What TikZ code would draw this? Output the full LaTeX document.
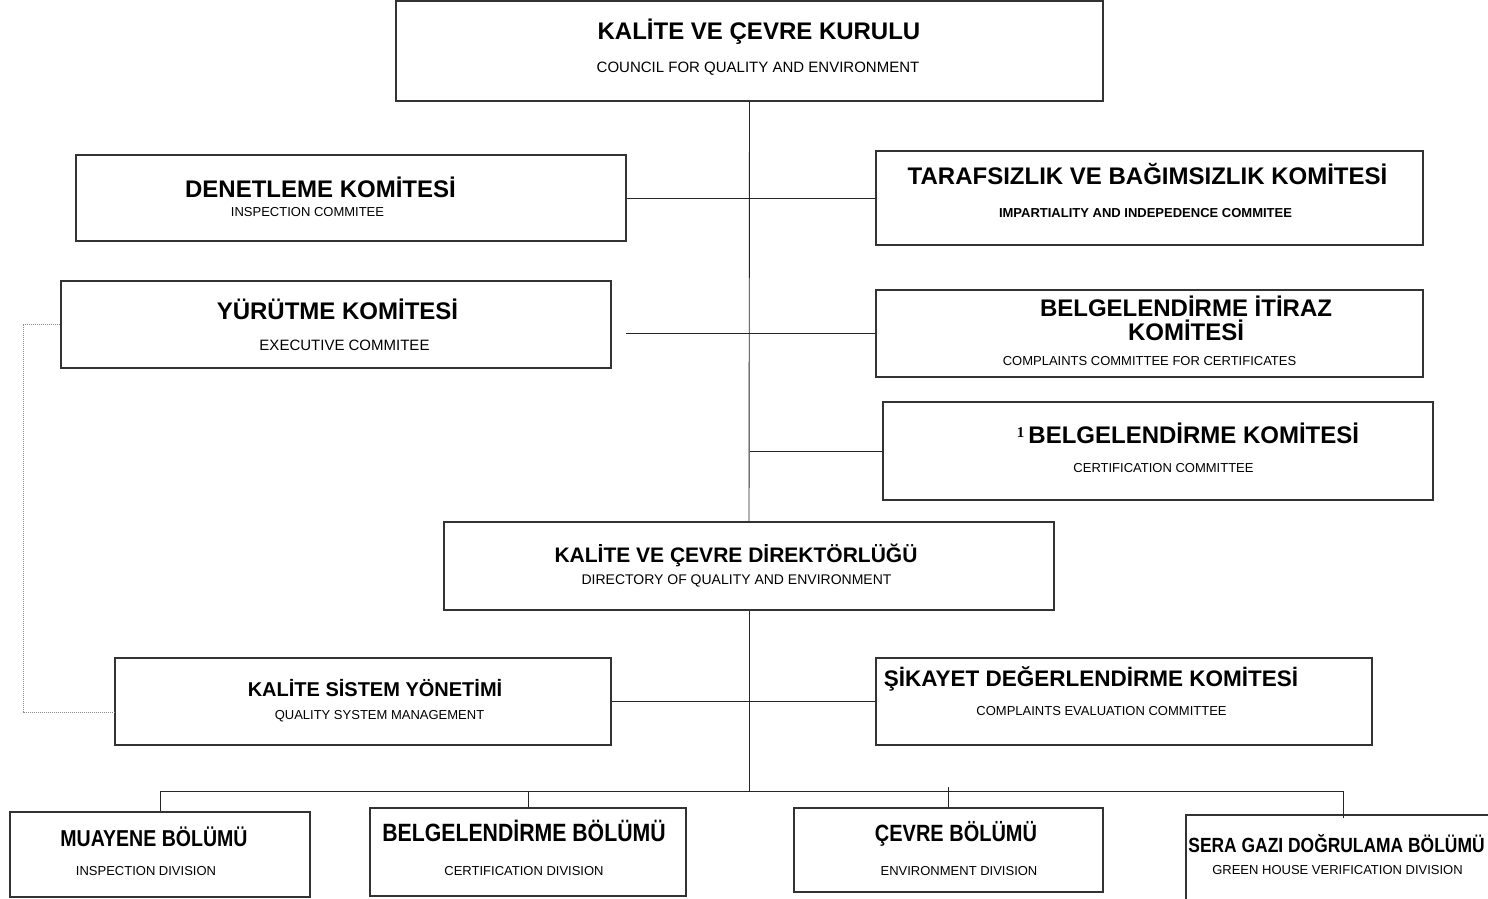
\documentclass[tikz,border=0pt]{standalone}
\usepackage{fontspec}
\setmainfont{Liberation Sans}
\newfontfamily\serifnum{Liberation Serif}
\newfontfamily\narrowsans{Liberation Sans}[FakeStretch=0.85]
\usetikzlibrary{positioning}

\begin{document}
\begin{tikzpicture}[x=1pt,y=-1pt,
  orgbox/.style={draw=black!80,line width=1.1pt,inner sep=0pt},
  ttl/.style={font=\fontsize{#1}{#1}\selectfont\bfseries,inner sep=0pt,
    text height={0.716*#1pt},text depth=0pt},
  ttl/.default=24,
  divttl/.style={font=\narrowsans\fontsize{#1}{#1}\selectfont\bfseries,inner sep=0pt,
    text height={0.716*#1pt},text depth=0pt},
  sub/.style={font=\fontsize{#1}{#1}\selectfont,inner sep=0pt,
    text height={0.716*#1pt},text depth=0pt},
  sub/.default=13,
  link/.style={draw=black!85,line width=0.9pt},
  dotlink/.style={draw=black!45,line width=1pt,densely dotted}
]
  \useasboundingbox (0,0) rectangle (1488,898);
  \clip (0,0) rectangle (1488,898);

  % Kurul
  \node[orgbox,minimum width=707pt,minimum height=100pt] (kurul) at (749.5,51) {};
  \node[ttl] (kurulT) at (759,31) {KALİTE VE ÇEVRE KURULU};
  \node[sub=15] (kurulS) at (758,67) {COUNCIL FOR QUALITY AND ENVIRONMENT};

  % Committees
  \node[orgbox,minimum width=550pt,minimum height=86pt] (denetim) at (351,198) {};
  \node[ttl] (denetimT) at (320.5,189) {DENETLEME KOMİTESİ};
  \node[sub] (denetimS) at (307.5,212) {INSPECTION COMMITEE};

  \node[orgbox,minimum width=547pt,minimum height=94pt] (taraf) at (1149.5,198) {};
  \node[ttl] (tarafT) at (1147.5,176) {TARAFSIZLIK VE BAĞIMSIZLIK KOMİTESİ};
  \node[sub,font=\fontsize{13}{13}\selectfont\bfseries] (tarafS) at (1145.5,213) {IMPARTIALITY AND INDEPEDENCE COMMITEE};

  \node[orgbox,minimum width=550pt,minimum height=87pt] (yurutme) at (336,324.5) {};
  \node[ttl] (yurutmeT) at (337.5,311) {YÜRÜTME KOMİTESİ};
  \node[sub=15] (yurutmeS) at (344.5,345) {EXECUTIVE COMMITEE};

  \node[orgbox,minimum width=547pt,minimum height=87pt] (itiraz) at (1149.5,333.5) {};
  \node[font=\fontsize{24}{24}\selectfont\bfseries,align=center,inner sep=0pt] (itirazT) at (1186,318) {BELGELENDİRME İTİRAZ\\KOMİTESİ};
  \node[sub] (itirazS) at (1149.5,361) {COMPLAINTS COMMITTEE FOR CERTIFICATES};

  \node[orgbox,minimum width=550pt,minimum height=98pt] (belgkom) at (1158,451) {};
  \node[ttl] (belgkomT) at (1188,435) {{\serifnum\fontsize{15}{15}\selectfont\raisebox{6pt}{1}}\,BELGELENDİRME KOMİTESİ};
  \node[sub] (belgkomS) at (1163.5,468) {CERTIFICATION COMMITTEE};

  % Direktorluk
  \node[orgbox,minimum width=610pt,minimum height=88pt] (direktor) at (749,566) {};
  \node[ttl=21] (direktorT) at (736,555) {KALİTE VE ÇEVRE DİREKTÖRLÜĞÜ};
  \node[sub=14] (direktorS) at (736.5,579) {DIRECTORY OF QUALITY AND ENVIRONMENT};

  \node[orgbox,minimum width=496pt,minimum height=87pt] (kss) at (363,701.5) {};
  \node[ttl=20] (kssT) at (375,689) {KALİTE SİSTEM YÖNETİMİ};
  \node[sub] (kssS) at (379.5,715) {QUALITY SYSTEM MANAGEMENT};

  \node[orgbox,minimum width=496pt,minimum height=87pt] (sikayet) at (1124,701.5) {};
  \node[ttl=22.5] (sikayetT) at (1091,678) {ŞİKAYET DEĞERLENDİRME KOMİTESİ};
  \node[sub] (sikayetS) at (1101.5,711) {COMPLAINTS EVALUATION COMMITTEE};

  % Divisions
  \node[orgbox,minimum width=300pt,minimum height=85pt] (muayene) at (160,854.5) {};
  \node[divttl=23] (muayeneT) at (154,838) {MUAYENE BÖLÜMÜ};
  \node[sub] (muayeneS) at (146,871) {INSPECTION DIVISION};

  \node[orgbox,minimum width=316pt,minimum height=88pt] (belgbol) at (528,852) {};
  \node[divttl=25] (belgbolT) at (524,833) {BELGELENDİRME BÖLÜMÜ};
  \node[sub] (belgbolS) at (524,871) {CERTIFICATION DIVISION};

  \node[orgbox,minimum width=309pt,minimum height=84pt] (cevre) at (948.5,850) {};
  \node[divttl=23.5] (cevreT) at (956,833) {ÇEVRE BÖLÜMÜ};
  \node[sub] (cevreS) at (959,871) {ENVIRONMENT DIVISION};

  \node[orgbox,minimum width=314pt,minimum height=95pt] (sera) at (1343,862.5) {};
  \node[divttl=20.5] (seraT) at (1336.5,845) {SERA GAZI DOĞRULAMA BÖLÜMÜ};
  \node[sub] (seraS) at (1337.5,870) {GREEN HOUSE VERIFICATION DIVISION};

  % Connections
  \coordinate (bus) at (749,791);
  \coordinate (yurEnd) at (626,333.5);
  \coordinate (dotL) at (23,324.5);
  \draw[link] (kurul.south) -- (direktor.north);
  \draw[link] (direktor.south) -- (bus);
  \draw[link] (denetim.east) -- (taraf.west);
  \draw[link] (yurEnd) -- (itiraz.west);
  \draw[link] (belgkom.west) -- (belgkom.west -| kurul.south);
  \draw[link] (kss.east) -- (sikayet.west);
  \draw[link] (muayene.north |- bus) -- (sera.north |- bus);
  \draw[link] (muayene.north) -- (muayene.north |- bus);
  \draw[link] (belgbol.north) -- (belgbol.north |- bus);
  \draw[link] (cevre.north) -- ([yshift=4pt]cevre.north |- bus);
  \draw[link] ([yshift=-4pt]sera.north) -- (sera.north |- bus);
  \draw[dotlink] (yurutme.west) -- (dotL) |- ([yshift=-10.5pt]kss.west);
\end{tikzpicture}
\end{document}
